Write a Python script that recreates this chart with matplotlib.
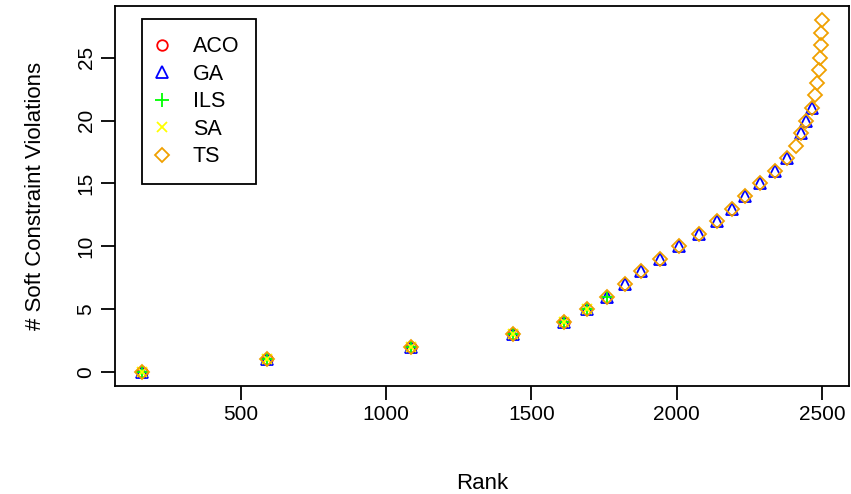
import matplotlib
matplotlib.use("Agg")
import matplotlib.pyplot as plt
from matplotlib.lines import Line2D

# Violation counts and their (average) rank across all runs
violations = list(range(29))
ranks = [161, 589, 1086, 1438, 1613, 1692, 1760, 1822, 1877, 1942,
         2010, 2079, 2140, 2192, 2236, 2288, 2339, 2380, 2411, 2428,
         2445, 2466, 2476, 2483, 2490, 2493, 2497, 2498, 2500]

# Distinct violation values reached by each algorithm
aco_vals = [0, 1, 2, 3, 4]
ga_vals = list(range(0, 18)) + [19, 20, 21]
ils_vals = [0, 1, 2, 3, 4, 5, 6]
sa_vals = [0, 1, 2, 3, 4, 5]
ts_vals = list(range(0, 29))

algorithms = ["ACO", "GA", "ILS", "SA", "TS"]
values = [aco_vals, ga_vals, ils_vals, sa_vals, ts_vals]
colors = ["red", "blue", "#00FF00", "#FFFF00", "#F0A000"]
markers = ["o", "^", "+", "x", "D"]
msizes = [7.6, 8.6, 10.7, 7.6, 7.6]

x_ticks = [500, 1000, 1500, 2000, 2500]
y_ticks = [0, 5, 10, 15, 20, 25]

plt.rcParams["font.family"] = ["Liberation Sans", "DejaVu Sans"]

fig = plt.figure(figsize=(8.51, 4.94), dpi=100)
ax = fig.add_axes([115 / 851, 108 / 494, (849 - 115) / 851, (386 - 6) / 494])

lw = 1.3
for name, vals, c, m, ms in zip(algorithms, values, colors, markers, msizes):
    xs = [ranks[v] for v in vals]
    ax.plot(xs, vals, linestyle="none", marker=m, markersize=ms,
            markerfacecolor="none", markeredgecolor=c, markeredgewidth=lw,
            label=name)

xr = ranks[-1] - ranks[0]
ax.set_xlim(ranks[0] - 0.04 * xr, ranks[-1] + 0.04 * xr)
ax.set_ylim(-0.04 * 28, 28 + 0.04 * 28)
ax.set_xticks(x_ticks)
ax.set_xticklabels([str(t) for t in x_ticks])
ax.set_yticks(y_ticks)
ax.set_yticklabels([str(t) for t in y_ticks], rotation=90, va="center")
ax.tick_params(direction="out", length=10, width=lw, labelsize=15, pad=4)
for s in ax.spines.values():
    s.set_linewidth(lw)

ax.set_xlabel("Rank", fontsize=16, labelpad=35)
ax.set_ylabel("# Soft Constraint Violations", fontsize=16, labelpad=22)

handles = [Line2D([], [], linestyle="none", marker=m, markersize=ms,
                  markerfacecolor="none", markeredgecolor=c, markeredgewidth=lw)
           for c, m, ms in zip(colors, markers, msizes)]
leg = ax.legend(handles, algorithms, loc="upper left",
                bbox_to_anchor=((142 - 115) / 734, (386 - 19) / 380),
                borderaxespad=0, fancybox=False, framealpha=1, edgecolor="black",
                fontsize=15.5, handlelength=0.3, handletextpad=1.25,
                labelspacing=0.3, borderpad=0.8)
leg.get_frame().set_linewidth(lw)

fig.savefig("out.png", dpi=100)
